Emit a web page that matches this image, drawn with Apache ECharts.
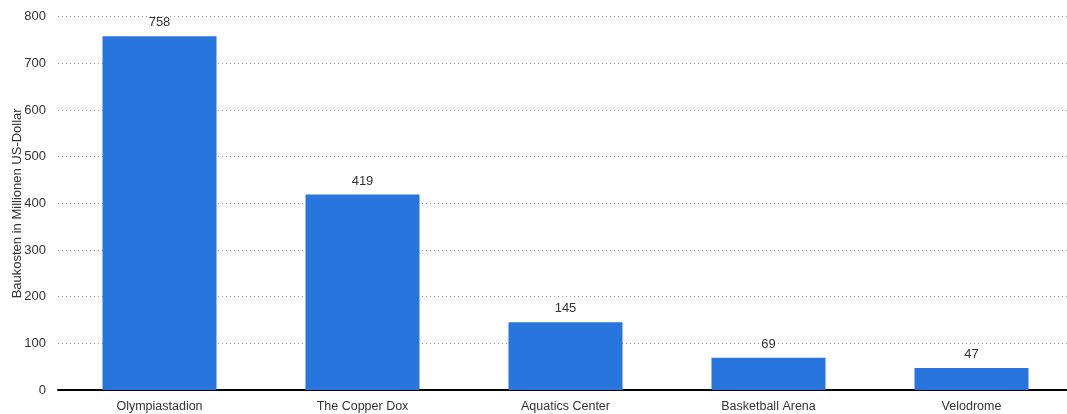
<!DOCTYPE html>
<html><head><meta charset="utf-8">
<script src="https://cdn.jsdelivr.net/npm/echarts@6/dist/echarts.min.js"></script>
<style>html,body{margin:0;padding:0;background:#fff}#c{width:1067px;height:414px}</style>
</head><body><div id="c"></div>
<script>
const categories = ["Olympiastadion", "The Copper Dox", "Aquatics Center", "Basketball Arena", "Velodrome"];
const values = [758, 419, 145, 69, 47];
const yTicks = [0, 100, 200, 300, 400, 500, 600, 700, 800];
const yAxisName = "Baukosten in Millionen US-Dollar";

const FONT = 'Arial, "Liberation Sans", sans-serif';
const chart = echarts.init(document.getElementById('c'));
chart.setOption({
  animation: false,
  grid: { left: 58, top: 16.7, right: -6, bottom: 24, containLabel: false, outerBoundsMode: 'none' },
  xAxis: {
    type: 'category', data: categories,
    axisLine: { lineStyle: { color: '#000', width: 2 } },
    axisTick: { show: false },
    axisLabel: { color: '#333', fontSize: 12.5, fontFamily: FONT, margin: 10 }
  },
  yAxis: {
    type: 'value', min: 0, max: 800, interval: 100,
    name: yAxisName, nameLocation: 'middle', nameGap: 34.5, nameMoveOverlap: false,
    nameTextStyle: { color: '#333', fontSize: 13, fontFamily: FONT },
    axisLine: { show: false }, axisTick: { show: false },
    axisLabel: { color: '#333', fontSize: 13, fontFamily: FONT, margin: 12,
      formatter: v => yTicks.includes(v) ? String(v) : '' },
    splitLine: { lineStyle: { color: '#999', type: [1, 3], width: 1 } }
  },
  series: [{
    type: 'bar', data: values, barWidth: 114,
    itemStyle: { color: '#2876dd' },
    label: { show: true, position: 'top', color: '#333', fontSize: 13, fontFamily: FONT, distance: 7 }
  }]
});
</script></body></html>
